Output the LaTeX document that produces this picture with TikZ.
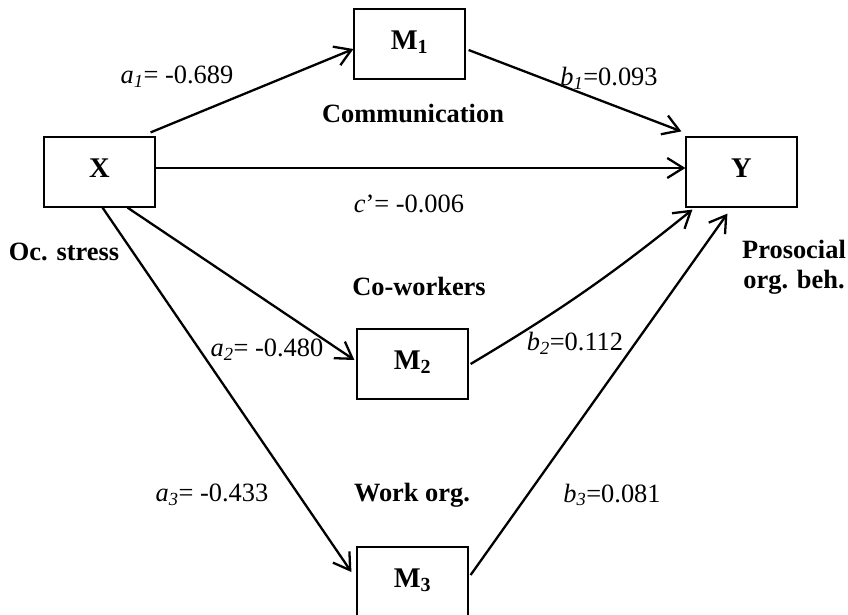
\documentclass[tikz,border=0pt]{standalone}
\usepackage{fontspec}
\setmainfont{Liberation Serif}
\usetikzlibrary{arrows.meta}
\begin{document}
\begin{tikzpicture}[x=1pt,y=-1pt,
  font=\fontsize{26.4}{30}\selectfont,
  box/.style={draw,line width=1.2pt,minimum width=111pt,minimum height=70pt,inner sep=0pt,text height=20pt,text depth=10pt,font=\fontsize{28.5}{32}\selectfont\bfseries},
  conn/.style={line width=2.3pt,-{Straight Barb[length=16pt,width=20pt]}},
  lab/.style={inner sep=0pt,anchor=center},
  blab/.style={inner sep=0pt,anchor=center,font=\fontsize{26.4}{30}\selectfont\bfseries}]
\useasboundingbox (0,0) rectangle (848,614);
\node[box] (X)  at (99.5,172) {X};
\node[box] (Y)  at (741.5,172) {Y};
\node[box] (M1) at (409.5,44) {M\textsubscript{1}};
\node[box] (M2) at (412.5,364) {M\textsubscript{2}};
\node[box] (M3) at (412.5,582) {M\textsubscript{3}};
\draw[conn] ([xshift=-5pt,yshift=4pt]X.north east) -- ([yshift=-5pt]M1.west);
\draw[conn] ([xshift=3pt,yshift=-6pt]M1.east) -- ([xshift=-4pt,yshift=5pt]Y.north west);
\draw[conn] ([yshift=4pt]X.east) -- ([yshift=4pt]Y.west);
\draw[conn] ([xshift=28pt]X.south) -- ([xshift=-2pt,yshift=4pt]M2.west);
\draw[conn] ([xshift=3pt]X.south) -- ([xshift=-5pt,yshift=10pt]M3.west);
\draw[conn] ([xshift=2pt]M2.east) to[bend right=4] ([xshift=7pt,yshift=-2pt]Y.south west);
\draw[conn] ([xshift=2pt,yshift=7pt]M3.east) -- ([xshift=42pt,yshift=-6pt]Y.south west);
\node[lab] (la1) at (177,77) {\textit{a}\textsubscript{\textit{1}}= -0.689};
\node[lab] (lb1) at (609,78) {\textit{b}\textsubscript{\textit{1}}=0.093};
\node[lab] (lc) at (409,204) {\textit{c}’= -0.006};
\node[lab] (la2) at (267,350) {\textit{a}\textsubscript{\textit{2}}= -0.480};
\node[lab] (lb2) at (575,343) {\textit{b}\textsubscript{\textit{2}}=0.112};
\node[lab] (la3) at (212,495) {\textit{a}\textsubscript{\textit{3}}= -0.433};
\node[lab] (lb3) at (612,495) {\textit{b}\textsubscript{\textit{3}}=0.081};
\node[blab] (comm) at (413,113) {Communication};
\node[blab] (cow) at (419,286) {Co-workers};
\node[blab] (work) at (412,495) {Work org.};
\node[blab] (ocs) at (64,252) {Oc. stress};
\node[blab,align=center] (pro) at (794,267) {Prosocial\\org. beh.};
\end{tikzpicture}
\end{document}
